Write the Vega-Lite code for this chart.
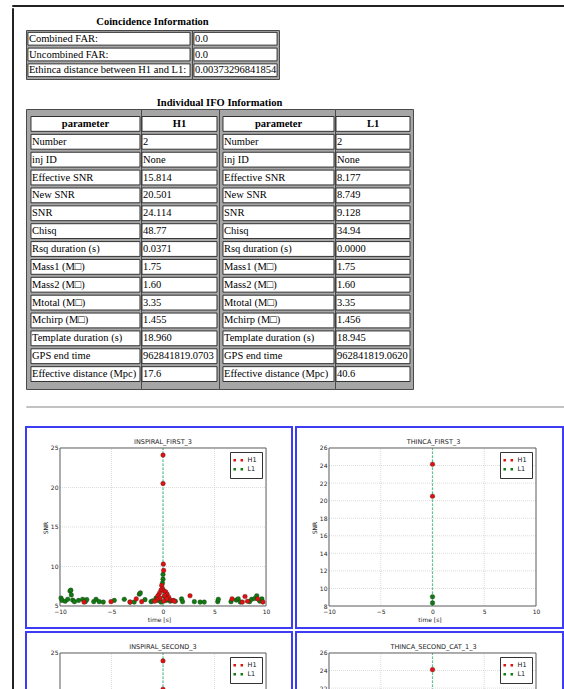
{
 "$schema": "https://vega.github.io/schema/vega-lite/v6.json",
 "padding": {"left": 11, "top": 4, "right": 0, "bottom": 0},
 "background": "white",
 "config": {
  "view": {"stroke": null},
  "axis": {"domain": false, "ticks": false, "grid": false, "labelFont": "DejaVu Sans", "titleFont": "DejaVu Sans", "labelFontSize": 6, "titleFontSize": 6, "labelColor": "#222", "titleColor": "#222", "titleFontWeight": "normal", "labelPadding": 2, "titlePadding": 2},
  "legend": {"labelFont": "DejaVu Sans", "labelFontSize": 6.5, "labelColor": "#111", "strokeColor": "#333", "fillColor": "white", "padding": 5, "rowPadding": 2, "labelOffset": 6, "symbolStrokeWidth": 0, "symbolSize": 36, "symbolType": "M-1.6,-0.42H-0.76V0.42H-1.6Z M0.76,-0.42H1.6V0.42H0.76Z"}
 },
 "datasets": {
  "coinc": [
   {"label": "Combined FAR:", "value": "0.0"},
   {"label": "Uncombined FAR:", "value": "0.0"},
   {"label": "Ethinca distance between H1 and L1:", "value": "0.00373296841854"}
  ],
  "ifo": [
   {"param": "parameter", "h1": "H1", "l1": "L1", "part": "header"},
   {"param": "Number", "h1": "2", "l1": "2", "part": "body"},
   {"param": "inj ID", "h1": "None", "l1": "None", "part": "body"},
   {"param": "Effective SNR", "h1": "15.814", "l1": "8.177", "part": "body"},
   {"param": "New SNR", "h1": "20.501", "l1": "8.749", "part": "body"},
   {"param": "SNR", "h1": "24.114", "l1": "9.128", "part": "body"},
   {"param": "Chisq", "h1": "48.77", "l1": "34.94", "part": "body"},
   {"param": "Rsq duration (s)", "h1": "0.0371", "l1": "0.0000", "part": "body"},
   {"param": "Mass1 (M□)", "h1": "1.75", "l1": "1.75", "part": "body"},
   {"param": "Mass2 (M□)", "h1": "1.60", "l1": "1.60", "part": "body"},
   {"param": "Mtotal (M□)", "h1": "3.35", "l1": "3.35", "part": "body"},
   {"param": "Mchirp (M□)", "h1": "1.455", "l1": "1.456", "part": "body"},
   {"param": "Template duration (s)", "h1": "18.960", "l1": "18.945", "part": "body"},
   {"param": "GPS end time", "h1": "962841819.0703", "l1": "962841819.0620", "part": "body"},
   {"param": "Effective distance (Mpc)", "h1": "17.6", "l1": "40.6", "part": "body"}
  ],
  "gx": [{"v": -5}, {"v": 0}, {"v": 5}],
  "gyi": [{"v": 10}, {"v": 15}, {"v": 20}],
  "gyt": [{"v": 10}, {"v": 12}, {"v": 14}, {"v": 16}, {"v": 18}, {"v": 20}, {"v": 22}, {"v": 24}],
  "inspiral_first": [
   {"ifo": "L1", "time": -9.9, "snr": 6.0}, {"ifo": "L1", "time": -9.8, "snr": 5.7}, {"ifo": "L1", "time": -9.5, "snr": 5.6}, {"ifo": "L1", "time": -9.25, "snr": 5.85}, {"ifo": "L1", "time": -9.03, "snr": 6.9}, {"ifo": "L1", "time": -8.95, "snr": 7.0}, {"ifo": "L1", "time": -8.9, "snr": 6.4}, {"ifo": "L1", "time": -8.77, "snr": 5.75}, {"ifo": "L1", "time": -8.6, "snr": 5.55}, {"ifo": "L1", "time": -8.2, "snr": 5.7}, {"ifo": "L1", "time": -7.8, "snr": 5.85}, {"ifo": "L1", "time": -7.54, "snr": 5.55}, {"ifo": "L1", "time": -7.4, "snr": 5.8}, {"ifo": "L1", "time": -6.73, "snr": 5.55}, {"ifo": "L1", "time": -6.5, "snr": 5.85}, {"ifo": "L1", "time": -6.2, "snr": 5.55}, {"ifo": "L1", "time": -5.8, "snr": 5.5}, {"ifo": "L1", "time": -4.73, "snr": 5.7}, {"ifo": "L1", "time": -3.76, "snr": 5.85}, {"ifo": "L1", "time": -3.2, "snr": 5.5}, {"ifo": "L1", "time": -2.8, "snr": 5.5}, {"ifo": "L1", "time": -2.3, "snr": 6.5}, {"ifo": "L1", "time": -2.2, "snr": 6.65}, {"ifo": "L1", "time": -1.75, "snr": 5.8}, {"ifo": "L1", "time": -1.16, "snr": 5.55}, {"ifo": "L1", "time": -1.0, "snr": 5.65}, {"ifo": "L1", "time": -0.68, "snr": 6.0}, {"ifo": "L1", "time": -0.45, "snr": 5.7}, {"ifo": "L1", "time": -0.2, "snr": 5.5}, {"ifo": "L1", "time": -0.05, "snr": 7.9}, {"ifo": "L1", "time": 0.0, "snr": 8.4}, {"ifo": "L1", "time": 0.0, "snr": 9.0}, {"ifo": "L1", "time": 0.13, "snr": 6.2}, {"ifo": "L1", "time": 0.3, "snr": 5.7}, {"ifo": "L1", "time": 0.45, "snr": 6.0}, {"ifo": "L1", "time": 0.7, "snr": 5.6}, {"ifo": "L1", "time": 1.2, "snr": 5.6}, {"ifo": "L1", "time": 1.8, "snr": 5.9}, {"ifo": "L1", "time": 1.9, "snr": 5.55}, {"ifo": "L1", "time": 3.04, "snr": 5.55}, {"ifo": "L1", "time": 3.6, "snr": 5.5}, {"ifo": "L1", "time": 4.0, "snr": 5.5}, {"ifo": "L1", "time": 5.31, "snr": 5.55}, {"ifo": "L1", "time": 5.37, "snr": 5.85}, {"ifo": "L1", "time": 6.6, "snr": 5.55}, {"ifo": "L1", "time": 7.1, "snr": 5.75}, {"ifo": "L1", "time": 7.3, "snr": 5.9}, {"ifo": "L1", "time": 7.5, "snr": 5.5}, {"ifo": "L1", "time": 8.4, "snr": 5.55}, {"ifo": "L1", "time": 8.6, "snr": 5.85}, {"ifo": "L1", "time": 8.9, "snr": 5.95}, {"ifo": "L1", "time": 9.1, "snr": 6.3}, {"ifo": "L1", "time": 9.4, "snr": 5.6}, {"ifo": "L1", "time": 9.6, "snr": 5.9},
   {"ifo": "H1", "time": 0.0, "snr": 24.1}, {"ifo": "H1", "time": 0.0, "snr": 20.5}, {"ifo": "H1", "time": 0.03, "snr": 10.3}, {"ifo": "H1", "time": 0.06, "snr": 9.5}, {"ifo": "H1", "time": -0.13, "snr": 7.6}, {"ifo": "H1", "time": -0.05, "snr": 7.2}, {"ifo": "H1", "time": -0.2, "snr": 7.0}, {"ifo": "H1", "time": 0.1, "snr": 6.9}, {"ifo": "H1", "time": 0.25, "snr": 6.8}, {"ifo": "H1", "time": -0.35, "snr": 6.6}, {"ifo": "H1", "time": 0.4, "snr": 6.5}, {"ifo": "H1", "time": -0.5, "snr": 6.3}, {"ifo": "H1", "time": 0.15, "snr": 6.3}, {"ifo": "H1", "time": -0.3, "snr": 6.0}, {"ifo": "H1", "time": 0.55, "snr": 6.1}, {"ifo": "H1", "time": 0.35, "snr": 5.9}, {"ifo": "H1", "time": -0.6, "snr": 5.8}, {"ifo": "H1", "time": 0.8, "snr": 5.7}, {"ifo": "H1", "time": -0.8, "snr": 5.6}, {"ifo": "H1", "time": 0.05, "snr": 5.6}, {"ifo": "H1", "time": 1.0, "snr": 5.7}, {"ifo": "H1", "time": 1.1, "snr": 5.6}, {"ifo": "H1", "time": 2.62, "snr": 6.3}, {"ifo": "H1", "time": -2.6, "snr": 5.9}, {"ifo": "H1", "time": -2.07, "snr": 5.55}, {"ifo": "H1", "time": -3.2, "snr": 5.5}, {"ifo": "H1", "time": -5.05, "snr": 5.55}, {"ifo": "H1", "time": -7.67, "snr": 5.5}, {"ifo": "H1", "time": 6.7, "snr": 5.9}, {"ifo": "H1", "time": 7.7, "snr": 5.5}, {"ifo": "H1", "time": 7.96, "snr": 6.2}, {"ifo": "H1", "time": 8.2, "snr": 5.6}, {"ifo": "H1", "time": 9.19, "snr": 5.9}, {"ifo": "H1", "time": 9.7, "snr": 5.5}
  ],
  "thinca_first": [
   {"ifo": "L1", "time": 0.0, "snr": 9.05}, {"ifo": "L1", "time": 0.0, "snr": 8.35},
   {"ifo": "H1", "time": 0.0, "snr": 24.15}, {"ifo": "H1", "time": 0.0, "snr": 20.5}
  ],
  "inspiral_second": [
   {"ifo": "L1", "time": 0.0, "snr": 9.0}, {"ifo": "L1", "time": 0.0, "snr": 8.4},
   {"ifo": "H1", "time": 0.0, "snr": 24.0}, {"ifo": "H1", "time": 0.0, "snr": 20.4}, {"ifo": "H1", "time": 0.03, "snr": 10.3}
  ],
  "thinca_second": [
   {"ifo": "L1", "time": 0.0, "snr": 9.05}, {"ifo": "L1", "time": 0.0, "snr": 8.35},
   {"ifo": "H1", "time": 0.0, "snr": 24.1}, {"ifo": "H1", "time": 0.0, "snr": 20.5}
  ]
 },
 "resolve": {"scale": {"color": "independent"}, "legend": {"color": "independent"}},
 "vconcat": [
  {"width": 560, "height": 1, "data": {"values": []}, "mark": "point", "view": {"stroke": "#222", "strokeWidth": 1}},
  {"resolve": {"scale": {"color": "independent"}, "legend": {"color": "independent"}},
   "hconcat": [
   {"width": 1, "height": 900, "data": {"values": []}, "mark": "point", "view": {"stroke": "#222", "strokeWidth": 1}},
   {"resolve": {"scale": {"color": "independent"}, "legend": {"color": "independent"}},
    "vconcat": [
    {"width": 1, "height": 9, "data": {"values": []}, "mark": "point"},
    {"title": {"text": "Coincidence Information", "font": "Liberation Serif", "fontSize": 10.5, "fontWeight": "bold", "color": "black", "anchor": "middle", "offset": 2},
     "hconcat": [
      {"width": 166, "height": 49, "data": {"name": "coinc"}, "view": {"fill": "#a6a6a6", "stroke": "#4a4a4a"},
       "encoding": {"y": {"field": "label", "type": "nominal", "sort": null, "axis": null, "scale": {"paddingInner": 0.19, "paddingOuter": 0.15}}},
       "layer": [
        {"mark": {"type": "rect", "fill": "white", "stroke": "#333", "strokeWidth": 1}, "encoding": {"x": {"datum": "c", "type": "nominal", "axis": null, "scale": {"paddingInner": 0, "paddingOuter": 0.012, "align": 0.5}}}},
        {"mark": {"type": "text", "align": "left", "baseline": "middle", "dx": 1, "font": "Liberation Serif", "fontSize": 10.5, "color": "black"}, "encoding": {"x": {"datum": "c", "type": "nominal", "bandPosition": 0, "axis": null}, "text": {"field": "label"}}}
       ]},
      {"width": 87, "height": 49, "data": {"name": "coinc"}, "view": {"fill": "#a6a6a6", "stroke": "#4a4a4a"},
       "encoding": {"y": {"field": "label", "type": "nominal", "sort": null, "axis": null, "scale": {"paddingInner": 0.19, "paddingOuter": 0.15}}},
       "layer": [
        {"mark": {"type": "rect", "fill": "white", "stroke": "#333", "strokeWidth": 1}, "encoding": {"x": {"datum": "c", "type": "nominal", "axis": null, "scale": {"paddingInner": 0, "paddingOuter": 0.023, "align": 0.5}}}},
        {"mark": {"type": "text", "align": "left", "baseline": "middle", "dx": 1, "font": "Liberation Serif", "fontSize": 10.5, "color": "black"}, "encoding": {"x": {"datum": "c", "type": "nominal", "bandPosition": 0, "axis": null}, "text": {"field": "value"}}}
       ]}
     ], "spacing": 0, "bounds": "flush"},
    {"width": 1, "height": 18, "data": {"values": []}, "mark": "point"},
    {"title": {"text": "Individual IFO Information", "font": "Liberation Serif", "fontSize": 10.5, "fontWeight": "bold", "color": "black", "anchor": "middle", "offset": 0},
     "hconcat": [
      {"width": 115, "height": 280, "data": {"name": "ifo"}, "view": {"fill": "#a6a6a6", "stroke": "#4a4a4a"},
       "encoding": {"y": {"field": "param", "type": "nominal", "sort": null, "axis": null, "scale": {"paddingInner": 0.17, "paddingOuter": 0.42}}},
       "layer": [
        {"mark": {"type": "rect", "fill": "white", "stroke": "#333", "strokeWidth": 1}, "encoding": {"x": {"datum": "c", "type": "nominal", "axis": null, "scale": {"paddingInner": 0, "paddingOuter": 0.0275, "align": 0.83}}}},
        {"transform": [{"filter": "datum.part == 'body'"}], "mark": {"type": "text", "align": "left", "baseline": "middle", "dx": 1, "font": "Liberation Serif", "fontSize": 10.5, "color": "black"}, "encoding": {"x": {"datum": "c", "type": "nominal", "bandPosition": 0, "axis": null}, "text": {"field": "param"}}},
        {"transform": [{"filter": "datum.part == 'header'"}], "mark": {"type": "text", "align": "center", "baseline": "middle", "font": "Liberation Serif", "fontSize": 10.5, "fontWeight": "bold", "color": "black"}, "encoding": {"x": {"datum": "c", "type": "nominal", "bandPosition": 0.5, "axis": null}, "text": {"field": "param"}}}
       ]},
      {"width": 78, "height": 280, "data": {"name": "ifo"}, "view": {"fill": "#a6a6a6", "stroke": "#4a4a4a"},
       "encoding": {"y": {"field": "param", "type": "nominal", "sort": null, "axis": null, "scale": {"paddingInner": 0.17, "paddingOuter": 0.42}}},
       "layer": [
        {"mark": {"type": "rect", "fill": "white", "stroke": "#333", "strokeWidth": 1}, "encoding": {"x": {"datum": "c", "type": "nominal", "axis": null, "scale": {"paddingInner": 0, "paddingOuter": 0.02, "align": 0.33}}}},
        {"transform": [{"filter": "datum.part == 'body'"}], "mark": {"type": "text", "align": "left", "baseline": "middle", "dx": 1, "font": "Liberation Serif", "fontSize": 10.5, "color": "black"}, "encoding": {"x": {"datum": "c", "type": "nominal", "bandPosition": 0, "axis": null}, "text": {"field": "h1"}}},
        {"transform": [{"filter": "datum.part == 'header'"}], "mark": {"type": "text", "align": "center", "baseline": "middle", "font": "Liberation Serif", "fontSize": 10.5, "fontWeight": "bold", "color": "black"}, "encoding": {"x": {"datum": "c", "type": "nominal", "bandPosition": 0.5, "axis": null}, "text": {"field": "h1"}}}
       ]},
      {"width": 116, "height": 280, "data": {"name": "ifo"}, "view": {"fill": "#a6a6a6", "stroke": "#4a4a4a"},
       "encoding": {"y": {"field": "param", "type": "nominal", "sort": null, "axis": null, "scale": {"paddingInner": 0.17, "paddingOuter": 0.42}}},
       "layer": [
        {"mark": {"type": "rect", "fill": "white", "stroke": "#333", "strokeWidth": 1}, "encoding": {"x": {"datum": "c", "type": "nominal", "axis": null, "scale": {"paddingInner": 0, "paddingOuter": 0.0225, "align": 0.8}}}},
        {"transform": [{"filter": "datum.part == 'body'"}], "mark": {"type": "text", "align": "left", "baseline": "middle", "dx": 1, "font": "Liberation Serif", "fontSize": 10.5, "color": "black"}, "encoding": {"x": {"datum": "c", "type": "nominal", "bandPosition": 0, "axis": null}, "text": {"field": "param"}}},
        {"transform": [{"filter": "datum.part == 'header'"}], "mark": {"type": "text", "align": "center", "baseline": "middle", "font": "Liberation Serif", "fontSize": 10.5, "fontWeight": "bold", "color": "black"}, "encoding": {"x": {"datum": "c", "type": "nominal", "bandPosition": 0.5, "axis": null}, "text": {"field": "param"}}}
       ]},
      {"width": 78, "height": 280, "data": {"name": "ifo"}, "view": {"fill": "#a6a6a6", "stroke": "#4a4a4a"},
       "encoding": {"y": {"field": "param", "type": "nominal", "sort": null, "axis": null, "scale": {"paddingInner": 0.17, "paddingOuter": 0.42}}},
       "layer": [
        {"mark": {"type": "rect", "fill": "white", "stroke": "#333", "strokeWidth": 1}, "encoding": {"x": {"datum": "c", "type": "nominal", "axis": null, "scale": {"paddingInner": 0, "paddingOuter": 0.027, "align": 0.25}}}},
        {"transform": [{"filter": "datum.part == 'body'"}], "mark": {"type": "text", "align": "left", "baseline": "middle", "dx": 1, "font": "Liberation Serif", "fontSize": 10.5, "color": "black"}, "encoding": {"x": {"datum": "c", "type": "nominal", "bandPosition": 0, "axis": null}, "text": {"field": "l1"}}},
        {"transform": [{"filter": "datum.part == 'header'"}], "mark": {"type": "text", "align": "center", "baseline": "middle", "font": "Liberation Serif", "fontSize": 10.5, "fontWeight": "bold", "color": "black"}, "encoding": {"x": {"datum": "c", "type": "nominal", "bandPosition": 0.5, "axis": null}, "text": {"field": "l1"}}}
       ]}
     ], "spacing": 0, "bounds": "flush"},
    {"width": 1, "height": 15, "data": {"values": []}, "mark": "point"},
    {"width": 539, "height": 1, "data": {"values": []}, "mark": "point", "view": {"stroke": "#c2c2c2", "strokeWidth": 1}},
    {"width": 1, "height": 18, "data": {"values": []}, "mark": "point"},
    {"resolve": {"scale": {"color": "independent"}, "legend": {"color": "independent"}},
     "hconcat": [
     {"width": 266, "height": 201, "view": {"stroke": "#3c3cf5", "strokeWidth": 2, "fill": "white"},
      "title": {"text": "INSPIRAL_FIRST_3", "font": "DejaVu Sans", "fontSize": 6.5, "fontWeight": "normal", "color": "#222", "offset": -18, "dx": 4, "anchor": "middle"},
      "layer": [
       {"data": {"name": "gx"}, "mark": {"type": "rule", "stroke": "#c4c4c4", "strokeWidth": 0.6, "strokeDash": [1, 1]},
        "encoding": {"x": {"field": "v", "type": "quantitative", "scale": {"domain": [-13.3, 12.52], "nice": false, "zero": false}, "axis": {"values": [-10, -5, 0, 5, 10], "format": "d", "offset": -22, "title": "time [s]", "labelFlush": false, "labelOverlap": false}},
                     "y": {"datum": 5, "type": "quantitative", "scale": {"domain": [2.215, 27.658], "nice": false, "zero": false}, "axis": {"values": [5, 10, 15, 20, 25], "format": "d", "offset": -34, "title": "SNR", "labelFlush": false, "labelOverlap": false}},
                     "y2": {"datum": 25}}},
       {"data": {"name": "gyi"}, "mark": {"type": "rule", "stroke": "#c4c4c4", "strokeWidth": 0.6, "strokeDash": [1, 1]},
        "encoding": {"y": {"field": "v", "type": "quantitative", "scale": {"domain": [2.215, 27.658], "nice": false, "zero": false}, "axis": {"values": [5, 10, 15, 20, 25], "format": "d", "offset": -34, "title": "SNR", "labelFlush": false, "labelOverlap": false}},
                     "x": {"datum": -10, "type": "quantitative", "scale": {"domain": [-13.3, 12.52], "nice": false, "zero": false}, "axis": {"values": [-10, -5, 0, 5, 10], "format": "d", "offset": -22, "title": "time [s]", "labelFlush": false, "labelOverlap": false}},
                     "x2": {"datum": 10}}},
       {"data": {"values": [{}]}, "mark": {"type": "rule", "color": "#5cc393", "stroke": "#5cc393", "strokeWidth": 1.2, "strokeDash": [2.5, 1.5]},
        "encoding": {"x": {"datum": 0, "type": "quantitative", "scale": {"domain": [-13.3, 12.52], "nice": false, "zero": false}, "axis": {"values": [-10, -5, 0, 5, 10], "format": "d", "offset": -22, "title": "time [s]", "labelFlush": false, "labelOverlap": false}},
                     "y": {"datum": 5, "type": "quantitative", "scale": {"domain": [2.215, 27.658], "nice": false, "zero": false}, "axis": {"values": [5, 10, 15, 20, 25], "format": "d", "offset": -34, "title": "SNR", "labelFlush": false, "labelOverlap": false}},
                     "y2": {"datum": 25}}},
       {"data": {"values": [{}]}, "mark": {"type": "rect", "fill": "transparent", "stroke": "#5a5a5a", "strokeWidth": 1},
        "encoding": {"x": {"datum": -10, "type": "quantitative", "scale": {"domain": [-13.3, 12.52], "nice": false, "zero": false}, "axis": {"values": [-10, -5, 0, 5, 10], "format": "d", "offset": -22, "title": "time [s]", "labelFlush": false, "labelOverlap": false}},
                     "x2": {"datum": 10},
                     "y": {"datum": 5, "type": "quantitative", "scale": {"domain": [2.215, 27.658], "nice": false, "zero": false}, "axis": {"values": [5, 10, 15, 20, 25], "format": "d", "offset": -34, "title": "SNR", "labelFlush": false, "labelOverlap": false}},
                     "y2": {"datum": 25}}},
       {"data": {"name": "inspiral_first"}, "mark": {"type": "point", "filled": true, "size": 22, "stroke": "#222", "strokeWidth": 0.3, "opacity": 1},
        "encoding": {"x": {"field": "time", "type": "quantitative", "scale": {"domain": [-13.3, 12.52], "nice": false, "zero": false}, "axis": {"values": [-10, -5, 0, 5, 10], "format": "d", "offset": -22, "title": "time [s]", "labelFlush": false, "labelOverlap": false}},
                     "y": {"field": "snr", "type": "quantitative", "scale": {"domain": [2.215, 27.658], "nice": false, "zero": false}, "axis": {"values": [5, 10, 15, 20, 25], "format": "d", "offset": -34, "title": "SNR", "labelFlush": false, "labelOverlap": false}},
                     "color": {"field": "ifo", "type": "nominal", "scale": {"domain": ["H1", "L1"], "range": ["#e01010", "#0f7a0f"]}, "legend": {"title": null, "orient": "none", "legendX": 204, "legendY": 25}}}}
      ]},
     {"width": 267, "height": 201, "view": {"stroke": "#3c3cf5", "strokeWidth": 2, "fill": "white"},
      "title": {"text": "THINCA_FIRST_3", "font": "DejaVu Sans", "fontSize": 6.5, "fontWeight": "normal", "color": "#222", "offset": -18, "dx": 4, "anchor": "middle"},
      "layer": [
       {"data": {"name": "gx"}, "mark": {"type": "rule", "stroke": "#c4c4c4", "strokeWidth": 0.6, "strokeDash": [1, 1]},
        "encoding": {"x": {"field": "v", "type": "quantitative", "scale": {"domain": [-13.188, 12.608], "nice": false, "zero": false}, "axis": {"values": [-10, -5, 0, 5, 10], "format": "d", "offset": -22, "title": "time [s]", "labelFlush": false, "labelOverlap": false}},
                     "y": {"datum": 8, "type": "quantitative", "scale": {"domain": [5.494, 28.392], "nice": false, "zero": false}, "axis": {"values": [8, 10, 12, 14, 16, 18, 20, 22, 24, 26], "format": "d", "offset": -33, "title": "SNR", "labelFlush": false, "labelOverlap": false}},
                     "y2": {"datum": 26}}},
       {"data": {"name": "gyt"}, "mark": {"type": "rule", "stroke": "#c4c4c4", "strokeWidth": 0.6, "strokeDash": [1, 1]},
        "encoding": {"y": {"field": "v", "type": "quantitative", "scale": {"domain": [5.494, 28.392], "nice": false, "zero": false}, "axis": {"values": [8, 10, 12, 14, 16, 18, 20, 22, 24, 26], "format": "d", "offset": -33, "title": "SNR", "labelFlush": false, "labelOverlap": false}},
                     "x": {"datum": -10, "type": "quantitative", "scale": {"domain": [-13.188, 12.608], "nice": false, "zero": false}, "axis": {"values": [-10, -5, 0, 5, 10], "format": "d", "offset": -22, "title": "time [s]", "labelFlush": false, "labelOverlap": false}},
                     "x2": {"datum": 10}}},
       {"data": {"values": [{}]}, "mark": {"type": "rule", "color": "#5cc393", "stroke": "#5cc393", "strokeWidth": 1.2, "strokeDash": [2.5, 1.5]},
        "encoding": {"x": {"datum": 0, "type": "quantitative", "scale": {"domain": [-13.188, 12.608], "nice": false, "zero": false}, "axis": {"values": [-10, -5, 0, 5, 10], "format": "d", "offset": -22, "title": "time [s]", "labelFlush": false, "labelOverlap": false}},
                     "y": {"datum": 8, "type": "quantitative", "scale": {"domain": [5.494, 28.392], "nice": false, "zero": false}, "axis": {"values": [8, 10, 12, 14, 16, 18, 20, 22, 24, 26], "format": "d", "offset": -33, "title": "SNR", "labelFlush": false, "labelOverlap": false}},
                     "y2": {"datum": 26}}},
       {"data": {"values": [{}]}, "mark": {"type": "rect", "fill": "transparent", "stroke": "#5a5a5a", "strokeWidth": 1},
        "encoding": {"x": {"datum": -10, "type": "quantitative", "scale": {"domain": [-13.188, 12.608], "nice": false, "zero": false}, "axis": {"values": [-10, -5, 0, 5, 10], "format": "d", "offset": -22, "title": "time [s]", "labelFlush": false, "labelOverlap": false}},
                     "x2": {"datum": 10},
                     "y": {"datum": 8, "type": "quantitative", "scale": {"domain": [5.494, 28.392], "nice": false, "zero": false}, "axis": {"values": [8, 10, 12, 14, 16, 18, 20, 22, 24, 26], "format": "d", "offset": -33, "title": "SNR", "labelFlush": false, "labelOverlap": false}},
                     "y2": {"datum": 26}}},
       {"data": {"name": "thinca_first"}, "mark": {"type": "point", "filled": true, "size": 22, "stroke": "#222", "strokeWidth": 0.3, "opacity": 1},
        "encoding": {"x": {"field": "time", "type": "quantitative", "scale": {"domain": [-13.188, 12.608], "nice": false, "zero": false}, "axis": {"values": [-10, -5, 0, 5, 10], "format": "d", "offset": -22, "title": "time [s]", "labelFlush": false, "labelOverlap": false}},
                     "y": {"field": "snr", "type": "quantitative", "scale": {"domain": [5.494, 28.392], "nice": false, "zero": false}, "axis": {"values": [8, 10, 12, 14, 16, 18, 20, 22, 24, 26], "format": "d", "offset": -33, "title": "SNR", "labelFlush": false, "labelOverlap": false}},
                     "color": {"field": "ifo", "type": "nominal", "scale": {"domain": ["H1", "L1"], "range": ["#e01010", "#0f7a0f"]}, "legend": {"title": null, "orient": "none", "legendX": 204, "legendY": 25}}}}
      ]}
    ], "spacing": 4, "bounds": "flush"},
    {"width": 1, "height": 2, "data": {"values": []}, "mark": "point"},
    {"resolve": {"scale": {"color": "independent"}, "legend": {"color": "independent"}},
     "hconcat": [
     {"width": 266, "height": 201, "view": {"stroke": "#3c3cf5", "strokeWidth": 2, "fill": "white"},
      "title": {"text": "INSPIRAL_SECOND_3", "font": "DejaVu Sans", "fontSize": 6.5, "fontWeight": "normal", "color": "#222", "offset": -18, "dx": 4, "anchor": "middle"},
      "layer": [
       {"data": {"name": "gx"}, "mark": {"type": "rule", "stroke": "#c4c4c4", "strokeWidth": 0.6, "strokeDash": [1, 1]},
        "encoding": {"x": {"field": "v", "type": "quantitative", "scale": {"domain": [-13.3, 12.52], "nice": false, "zero": false}, "axis": {"values": [-10, -5, 0, 5, 10], "format": "d", "offset": -22, "title": "time [s]", "labelFlush": false, "labelOverlap": false}},
                     "y": {"datum": 5, "type": "quantitative", "scale": {"domain": [2.215, 27.658], "nice": false, "zero": false}, "axis": {"values": [5, 10, 15, 20, 25], "format": "d", "offset": -34, "title": "SNR", "labelFlush": false, "labelOverlap": false}},
                     "y2": {"datum": 25}}},
       {"data": {"name": "gyi"}, "mark": {"type": "rule", "stroke": "#c4c4c4", "strokeWidth": 0.6, "strokeDash": [1, 1]},
        "encoding": {"y": {"field": "v", "type": "quantitative", "scale": {"domain": [2.215, 27.658], "nice": false, "zero": false}, "axis": {"values": [5, 10, 15, 20, 25], "format": "d", "offset": -34, "title": "SNR", "labelFlush": false, "labelOverlap": false}},
                     "x": {"datum": -10, "type": "quantitative", "scale": {"domain": [-13.3, 12.52], "nice": false, "zero": false}, "axis": {"values": [-10, -5, 0, 5, 10], "format": "d", "offset": -22, "title": "time [s]", "labelFlush": false, "labelOverlap": false}},
                     "x2": {"datum": 10}}},
       {"data": {"values": [{}]}, "mark": {"type": "rule", "color": "#5cc393", "stroke": "#5cc393", "strokeWidth": 1.2, "strokeDash": [2.5, 1.5]},
        "encoding": {"x": {"datum": 0, "type": "quantitative", "scale": {"domain": [-13.3, 12.52], "nice": false, "zero": false}, "axis": {"values": [-10, -5, 0, 5, 10], "format": "d", "offset": -22, "title": "time [s]", "labelFlush": false, "labelOverlap": false}},
                     "y": {"datum": 5, "type": "quantitative", "scale": {"domain": [2.215, 27.658], "nice": false, "zero": false}, "axis": {"values": [5, 10, 15, 20, 25], "format": "d", "offset": -34, "title": "SNR", "labelFlush": false, "labelOverlap": false}},
                     "y2": {"datum": 25}}},
       {"data": {"values": [{}]}, "mark": {"type": "rect", "fill": "transparent", "stroke": "#5a5a5a", "strokeWidth": 1},
        "encoding": {"x": {"datum": -10, "type": "quantitative", "scale": {"domain": [-13.3, 12.52], "nice": false, "zero": false}, "axis": {"values": [-10, -5, 0, 5, 10], "format": "d", "offset": -22, "title": "time [s]", "labelFlush": false, "labelOverlap": false}},
                     "x2": {"datum": 10},
                     "y": {"datum": 5, "type": "quantitative", "scale": {"domain": [2.215, 27.658], "nice": false, "zero": false}, "axis": {"values": [5, 10, 15, 20, 25], "format": "d", "offset": -34, "title": "SNR", "labelFlush": false, "labelOverlap": false}},
                     "y2": {"datum": 25}}},
       {"data": {"name": "inspiral_second"}, "mark": {"type": "point", "filled": true, "size": 22, "stroke": "#222", "strokeWidth": 0.3, "opacity": 1},
        "encoding": {"x": {"field": "time", "type": "quantitative", "scale": {"domain": [-13.3, 12.52], "nice": false, "zero": false}, "axis": {"values": [-10, -5, 0, 5, 10], "format": "d", "offset": -22, "title": "time [s]", "labelFlush": false, "labelOverlap": false}},
                     "y": {"field": "snr", "type": "quantitative", "scale": {"domain": [2.215, 27.658], "nice": false, "zero": false}, "axis": {"values": [5, 10, 15, 20, 25], "format": "d", "offset": -34, "title": "SNR", "labelFlush": false, "labelOverlap": false}},
                     "color": {"field": "ifo", "type": "nominal", "scale": {"domain": ["H1", "L1"], "range": ["#e01010", "#0f7a0f"]}, "legend": {"title": null, "orient": "none", "legendX": 204, "legendY": 25}}}}
      ]},
     {"width": 267, "height": 201, "view": {"stroke": "#3c3cf5", "strokeWidth": 2, "fill": "white"},
      "title": {"text": "THINCA_SECOND_CAT_1_3", "font": "DejaVu Sans", "fontSize": 6.5, "fontWeight": "normal", "color": "#222", "offset": -18, "dx": 4, "anchor": "middle"},
      "layer": [
       {"data": {"name": "gx"}, "mark": {"type": "rule", "stroke": "#c4c4c4", "strokeWidth": 0.6, "strokeDash": [1, 1]},
        "encoding": {"x": {"field": "v", "type": "quantitative", "scale": {"domain": [-13.188, 12.608], "nice": false, "zero": false}, "axis": {"values": [-10, -5, 0, 5, 10], "format": "d", "offset": -22, "title": "time [s]", "labelFlush": false, "labelOverlap": false}},
                     "y": {"datum": 8, "type": "quantitative", "scale": {"domain": [5.494, 28.392], "nice": false, "zero": false}, "axis": {"values": [8, 10, 12, 14, 16, 18, 20, 22, 24, 26], "format": "d", "offset": -33, "title": "SNR", "labelFlush": false, "labelOverlap": false}},
                     "y2": {"datum": 26}}},
       {"data": {"name": "gyt"}, "mark": {"type": "rule", "stroke": "#c4c4c4", "strokeWidth": 0.6, "strokeDash": [1, 1]},
        "encoding": {"y": {"field": "v", "type": "quantitative", "scale": {"domain": [5.494, 28.392], "nice": false, "zero": false}, "axis": {"values": [8, 10, 12, 14, 16, 18, 20, 22, 24, 26], "format": "d", "offset": -33, "title": "SNR", "labelFlush": false, "labelOverlap": false}},
                     "x": {"datum": -10, "type": "quantitative", "scale": {"domain": [-13.188, 12.608], "nice": false, "zero": false}, "axis": {"values": [-10, -5, 0, 5, 10], "format": "d", "offset": -22, "title": "time [s]", "labelFlush": false, "labelOverlap": false}},
                     "x2": {"datum": 10}}},
       {"data": {"values": [{}]}, "mark": {"type": "rule", "color": "#5cc393", "stroke": "#5cc393", "strokeWidth": 1.2, "strokeDash": [2.5, 1.5]},
        "encoding": {"x": {"datum": 0, "type": "quantitative", "scale": {"domain": [-13.188, 12.608], "nice": false, "zero": false}, "axis": {"values": [-10, -5, 0, 5, 10], "format": "d", "offset": -22, "title": "time [s]", "labelFlush": false, "labelOverlap": false}},
                     "y": {"datum": 8, "type": "quantitative", "scale": {"domain": [5.494, 28.392], "nice": false, "zero": false}, "axis": {"values": [8, 10, 12, 14, 16, 18, 20, 22, 24, 26], "format": "d", "offset": -33, "title": "SNR", "labelFlush": false, "labelOverlap": false}},
                     "y2": {"datum": 26}}},
       {"data": {"values": [{}]}, "mark": {"type": "rect", "fill": "transparent", "stroke": "#5a5a5a", "strokeWidth": 1},
        "encoding": {"x": {"datum": -10, "type": "quantitative", "scale": {"domain": [-13.188, 12.608], "nice": false, "zero": false}, "axis": {"values": [-10, -5, 0, 5, 10], "format": "d", "offset": -22, "title": "time [s]", "labelFlush": false, "labelOverlap": false}},
                     "x2": {"datum": 10},
                     "y": {"datum": 8, "type": "quantitative", "scale": {"domain": [5.494, 28.392], "nice": false, "zero": false}, "axis": {"values": [8, 10, 12, 14, 16, 18, 20, 22, 24, 26], "format": "d", "offset": -33, "title": "SNR", "labelFlush": false, "labelOverlap": false}},
                     "y2": {"datum": 26}}},
       {"data": {"name": "thinca_second"}, "mark": {"type": "point", "filled": true, "size": 22, "stroke": "#222", "strokeWidth": 0.3, "opacity": 1},
        "encoding": {"x": {"field": "time", "type": "quantitative", "scale": {"domain": [-13.188, 12.608], "nice": false, "zero": false}, "axis": {"values": [-10, -5, 0, 5, 10], "format": "d", "offset": -22, "title": "time [s]", "labelFlush": false, "labelOverlap": false}},
                     "y": {"field": "snr", "type": "quantitative", "scale": {"domain": [5.494, 28.392], "nice": false, "zero": false}, "axis": {"values": [8, 10, 12, 14, 16, 18, 20, 22, 24, 26], "format": "d", "offset": -33, "title": "SNR", "labelFlush": false, "labelOverlap": false}},
                     "color": {"field": "ifo", "type": "nominal", "scale": {"domain": ["H1", "L1"], "range": ["#e01010", "#0f7a0f"]}, "legend": {"title": null, "orient": "none", "legendX": 204, "legendY": 25}}}}
      ]}
    ], "spacing": 4, "bounds": "flush"}
   ], "spacing": 0}
  ], "spacing": 13, "bounds": "flush"}
 ], "spacing": 0
}
